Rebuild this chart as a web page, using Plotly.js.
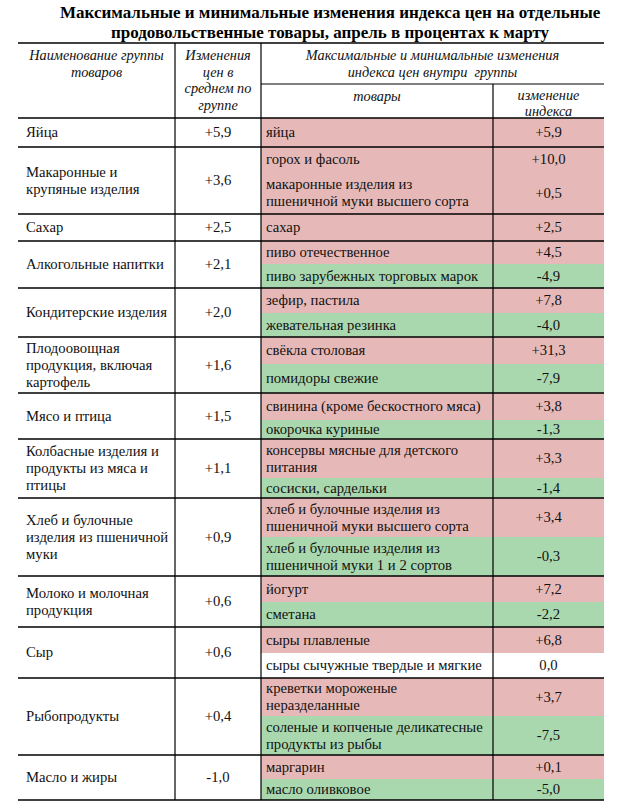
<!DOCTYPE html>
<html>
<head>
<meta charset="utf-8">
<script src="https://cdn.plot.ly/plotly-3.0.1.min.js"></script>
<style>html,body{margin:0;padding:0;background:#fff;}#chart{width:621px;height:801px;}</style>
</head>
<body>
<div id="chart"></div>
<script>
// ---------------- DATA ----------------
const titleLines = [
  "Максимальные и минимальные изменения индекса цен на отдельные",
  "продовольственные товары, апрель в процентах к марту"
];

const headerGroup = "Наименование группы<br>товаров";
const headerAvg = "Изменения<br>цен в<br>среднем по<br>группе";
const headerRange = "Максимальные и минимальные изменения<br>индекса цен внутри  группы";
const headerItems = "товары";
const headerIdx = "изменение<br>индекса";

const groupNames = [
  "Яйца",
  "Макаронные и<br>крупяные изделия",
  "Сахар",
  "Алкогольные напитки",
  "Кондитерские изделия",
  "Плодоовощная<br>продукция, включая<br>картофель",
  "Мясо и птица",
  "Колбасные изделия и<br>продукты из мяса и<br>птицы",
  "Хлеб и булочные<br>изделия из пшеничной<br>муки",
  "Молоко и молочная<br>продукция",
  "Сыр",
  "Рыбопродукты",
  "Масло и жиры"
];
const groupChange = [5.9, 3.6, 2.5, 2.1, 2.0, 1.6, 1.5, 1.1, 0.9, 0.6, 0.6, 0.4, -1.0];

const itemNames = [
  "яйца",
  "горох и фасоль",
  "макаронные изделия из<br>пшеничной муки высшего сорта",
  "сахар",
  "пиво отечественное",
  "пиво зарубежных торговых марок",
  "зефир, пастила",
  "жевательная резинка",
  "свёкла столовая",
  "помидоры свежие",
  "свинина (кроме бескостного мяса)",
  "окорочка куриные",
  "консервы мясные для детского<br>питания",
  "сосиски, сардельки",
  "хлеб и булочные изделия из<br>пшеничной муки высшего сорта",
  "хлеб и булочные изделия из<br>пшеничной муки 1 и 2 сортов",
  "йогурт",
  "сметана",
  "сыры плавленые",
  "сыры сычужные твердые и мягкие",
  "креветки мороженые<br>неразделанные",
  "соленые и копченые деликатесные<br>продукты из рыбы",
  "маргарин",
  "масло оливковое"
];
const itemGroup = [0,1,1,2,3,3,4,4,5,5,6,6,7,7,8,8,9,9,10,10,11,11,12,12];
const itemChange = [5.9, 10.0, 0.5, 2.5, 4.5, -4.9, 7.8, -4.0, 31.3, -7.9, 3.8, -1.3, 3.3, -1.4, 3.4, -0.3, 7.2, -2.2, 6.8, 0.0, 3.7, -7.5, 0.1, -5.0];

// ---------------- LAYOUT / STYLE ----------------
const W = 621, H = 801;
const colX = {left: 18, c1: 175, c2: 261, c3: 493, right: 604};
const tableTop = 43, subHeadLine = 84, bodyTop = 118;
const rowH = [29,25,42,27,23,24,25,24,27,29,27,19,39,20,39,39,26,25,26,25,38,39,24,21];
const PINK = "#E6B9B8", GREEN = "#A9D8AF", WHITE = "#FFFFFF";
const FONT = "Liberation Serif";
const FS = 14.7, HFS = 14.3, LH = 17, HLH = 16.5;

function fmt(v) {
  const s = Math.abs(v).toFixed(1).replace(".", ",");
  if (v > 0) return "+" + s;
  if (v < 0) return "-" + s;
  return s;
}

// split multi-line labels into separate lines with a fixed leading
function splitLines(texts, xs, ys, lh) {
  const out = {x: [], y: [], text: []};
  texts.forEach((t, i) => {
    const parts = t.split("<br>");
    parts.forEach((p, k) => {
      out.x.push(xs[i]);
      out.y.push(ys[i] + (k - (parts.length - 1) / 2) * lh);
      out.text.push(p);
    });
  });
  return out;
}

// item geometry
const itemTop = [], itemMid = [];
let acc = bodyTop;
rowH.forEach(h => { itemTop.push(acc); itemMid.push(acc + h / 2); acc += h; });
const bodyBottom = acc;
// group geometry
const gTop = [], gBot = [];
itemGroup.forEach((g, i) => {
  if (gTop[g] === undefined) gTop[g] = itemTop[i];
  gBot[g] = itemTop[i] + rowH[i];
});
const gMid = gTop.map((t, i) => (t + gBot[i]) / 2);

const cellColor = itemChange.map(v => v > 0 ? PINK : (v < 0 ? GREEN : WHITE));

function textTrace(o, pos, size, italic) {
  return {
    type: "scatter", mode: "text", hoverinfo: "skip",
    x: o.x, y: o.y,
    text: italic ? o.text.map(t => "<i>" + t + "</i>") : o.text,
    textposition: pos,
    textfont: {family: FONT, size: size, color: "#111"}
  };
}

const traces = [];
// header text (drawn beneath cells so the first body row clips the last header line)
const hdr = splitLines(
  [headerGroup, headerAvg, headerRange, headerItems, headerIdx],
  [(colX.left + colX.c1) / 2, (colX.c1 + colX.c2) / 2, (colX.c2 + colX.right) / 2, (colX.c2 + colX.c3) / 2, (colX.c3 + colX.right) / 2],
  [65, 81.5, 65, 97, 104.5], HLH);
traces.push(textTrace(hdr, "middle center", HFS, true));
// colored cells (bars)
traces.push({
  type: "bar", orientation: "h", hoverinfo: "skip",
  y: itemMid, x: itemNames.map(() => colX.right - colX.c2), base: colX.c2,
  width: rowH, marker: {color: cellColor, line: {width: 0}}
});
// item names
traces.push(textTrace(splitLines(itemNames, itemNames.map(() => colX.c2 + 5), itemMid.map(v => v + 1), LH), "middle right", FS, false));
// item values
traces.push(textTrace({x: itemChange.map(() => (colX.c3 + colX.right) / 2), y: itemMid.map(v => v + 1), text: itemChange.map(fmt)}, "middle center", FS, false));
// group names
traces.push(textTrace(splitLines(groupNames, groupNames.map(() => colX.left + 8), gMid.map(v => v + 1), LH), "middle right", FS, false));
// group averages
traces.push(textTrace({x: groupChange.map(() => (colX.c1 + colX.c2) / 2), y: gMid.map(v => v + 1), text: groupChange.map(fmt)}, "middle center", FS, false));

// rules
const shapes = [];
function hline(y, x0, x1, w) {
  shapes.push({type: "line", xref: "x", yref: "y", x0: x0, x1: x1, y0: y, y1: y, line: {color: "#000", width: w}, layer: "above"});
}
function vline(x, y0, y1, w) {
  shapes.push({type: "line", xref: "x", yref: "y", x0: x, x1: x, y0: y0, y1: y1, line: {color: "#000", width: w}, layer: "above"});
}
hline(tableTop, colX.left, colX.right, 1.6);
hline(subHeadLine, colX.c2, colX.right, 1.2);
hline(bodyTop, colX.left, colX.right, 1.6);
gBot.forEach(y => hline(y, colX.left, colX.right, 1.6));
vline(colX.c1, tableTop, bodyBottom, 1.2);
vline(colX.c2, tableTop, bodyBottom, 1.2);
vline(colX.c3, subHeadLine, bodyBottom, 1.2);

const titleY = [12, 32];
const layout = {
  width: W, height: H,
  margin: {l: 0, r: 0, t: 0, b: 0},
  paper_bgcolor: "#fff", plot_bgcolor: "#fff",
  showlegend: false,
  annotations: titleLines.map((t, i) => ({
    text: "<b>" + t + "</b>",
    xref: "x", yref: "y", x: 330, y: titleY[i],
    xanchor: "center", yanchor: "middle", showarrow: false,
    font: {family: FONT, size: 17, color: "#000"}
  })),
  xaxis: {range: [0, W], visible: false, fixedrange: true},
  yaxis: {range: [H, 0], visible: false, fixedrange: true},
  shapes: shapes
};

Plotly.newPlot("chart", traces, layout, {displayModeBar: false, staticPlot: true});
</script>
</body>
</html>
